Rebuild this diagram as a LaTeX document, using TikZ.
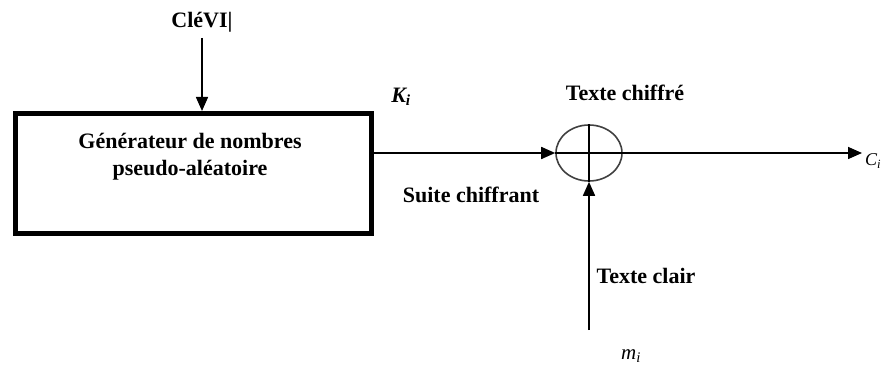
\documentclass[tikz,border=0pt]{standalone}
\usepackage{fontspec}
\setmainfont{Liberation Serif}
\usetikzlibrary{shapes.geometric,arrows.meta}
\begin{document}
\begin{tikzpicture}[x=1pt,y=-1pt,
  lbl/.style={font=\fontsize{22}{27}\selectfont\bfseries, inner sep=0pt, align=center},
  var/.style={font=\fontsize{21}{26}\selectfont\itshape, inner sep=0pt},
  conn/.style={line width=1.6pt, -{Triangle[length=14pt,width=12pt]}},
  plain/.style={line width=1.6pt}]
\useasboundingbox (0,0) rectangle (884,374);
\node[draw, line width=5pt, minimum width=356pt, minimum height=120pt, inner sep=0pt] (gen) at (193.5,173.5) {};
\node[lbl] (gentxt) at (190,157) {Générateur de nombres\\pseudo-aléatoire};
\node[draw=black!75, line width=1.6pt, ellipse, minimum width=66pt, minimum height=56pt, inner sep=0pt] (xor) at (589,153) {};
\draw[plain] (xor.north) -- (xor.south);
\draw[plain] (xor.west) -- (xor.east);
\coordinate (keytop) at (202,38);
\coordinate (cout) at (862,153);
\coordinate (mbot) at (589,330);
\node[lbl] (key) at (202,22) {CléVI|};
\node[var, font=\fontsize{22}{27}\selectfont\bfseries\itshape] (ki) at (401,97) {K\textsubscript{i}};
\node[lbl] (ct) at (625,93) {Texte chiffré};
\node[lbl] (suite) at (471,195) {Suite chiffrant};
\node[lbl] (tc) at (646,276) {Texte clair};
\node[var, font=\fontsize{18}{22}\selectfont\itshape, anchor=west] (ci) at (865,161) {C\textsubscript{i}};
\node[var] (mi) at (631,356) {m\textsubscript{i}};
\draw[conn] (keytop) -- (gen.north -| keytop);
\draw[conn] (gen.east |- xor.west) -- (xor.west);
\draw[conn] (xor.east) -- (cout);
\draw[conn] (mbot) -- (xor.south);
\end{tikzpicture}
\end{document}
